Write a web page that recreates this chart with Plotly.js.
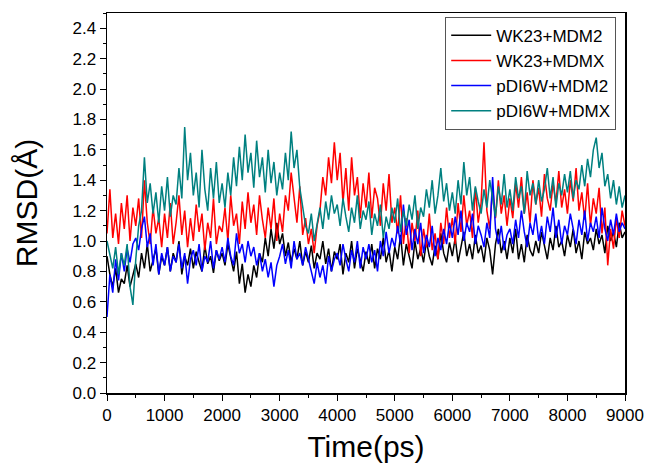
<!DOCTYPE html>
<html>
<head>
<meta charset="utf-8">
<script src="https://cdn.plot.ly/plotly-3.0.1.min.js"></script>
<style>html,body{margin:0;padding:0;background:#fff;}#chart{width:645px;height:464px;}</style>
</head>
<body>
<div id="chart"></div>
<script>
const timePs = [
0,50,100,150,200,250,300,350,400,450,
500,550,600,650,700,750,800,850,900,950,
1000,1050,1100,1150,1200,1250,1300,1350,1400,1450,
1500,1550,1600,1650,1700,1750,1800,1850,1900,1950,
2000,2050,2100,2150,2200,2250,2300,2350,2400,2450,
2500,2550,2600,2650,2700,2750,2800,2850,2900,2950,
3000,3050,3100,3150,3200,3250,3300,3350,3400,3450,
3500,3550,3600,3650,3700,3750,3800,3850,3900,3950,
4000,4050,4100,4150,4200,4250,4300,4350,4400,4450,
4500,4550,4600,4650,4700,4750,4800,4850,4900,4950,
5000,5050,5100,5150,5200,5250,5300,5350,5400,5450,
5500,5550,5600,5650,5700,5750,5800,5850,5900,5950,
6000,6050,6100,6150,6200,6250,6300,6350,6400,6450,
6500,6550,6600,6650,6700,6750,6800,6850,6900,6950,
7000,7050,7100,7150,7200,7250,7300,7350,7400,7450,
7500,7550,7600,7650,7700,7750,7800,7850,7900,7950,
8000,8050,8100,8150,8200,8250,8300,8350,8400,8450,
8500,8550,8600,8650,8700,8750,8800,8850,8900,8950,
9000];

const wk23Mdm2 = [
0.90,0.78,0.70,0.82,0.66,0.75,0.72,0.84,0.70,0.78,
0.85,0.76,0.92,0.82,0.98,0.80,0.88,0.95,0.78,0.90,
0.84,0.96,0.80,0.92,0.86,1.00,0.78,0.90,0.84,0.95,
0.82,0.93,0.86,0.80,0.97,0.85,0.90,0.79,0.94,0.87,
0.92,0.84,0.98,0.88,0.80,0.93,0.72,0.85,0.66,0.78,
0.70,0.84,0.76,0.92,0.86,1.02,0.90,1.08,0.95,1.12,
0.98,1.05,0.90,0.99,0.86,0.95,0.88,1.00,0.84,0.93,
0.86,0.97,0.82,0.92,0.88,1.00,0.85,0.95,0.80,0.93,
0.88,0.98,0.78,0.92,0.86,1.00,0.82,0.95,0.88,0.80,
0.93,0.85,0.98,0.82,0.95,0.88,1.02,0.86,0.94,0.80,
0.96,0.88,1.04,0.84,0.98,0.90,0.82,1.00,0.88,0.95,
0.86,1.00,0.90,0.84,0.97,0.88,1.05,0.92,0.86,0.99,
0.90,1.02,0.86,0.96,1.06,0.90,0.98,0.88,1.04,0.92,
0.97,0.86,1.02,0.94,0.78,0.98,1.08,0.92,1.00,0.88,
1.02,0.92,1.08,0.88,0.98,0.86,1.04,0.94,0.90,1.00,
0.92,1.06,0.96,0.88,1.02,0.94,1.10,0.96,1.00,0.90,
1.04,0.96,1.08,0.92,1.00,0.88,1.06,0.98,1.02,0.94,
1.08,0.98,1.04,0.92,1.10,1.00,1.06,0.96,1.12,1.02,
1.06];

const wk23Mdmx = [
1.05,1.34,1.02,1.18,0.98,1.25,1.08,1.30,1.00,1.22,
1.10,1.28,1.02,1.40,1.12,0.98,1.22,1.05,1.15,0.96,
1.18,1.02,1.25,0.98,1.12,1.30,1.04,1.20,0.96,1.15,
1.00,1.24,1.06,1.18,0.94,1.12,1.02,1.28,0.98,1.10,
1.06,1.22,1.00,1.30,1.10,1.18,0.98,1.26,1.08,1.32,
1.12,1.24,1.04,1.30,1.14,1.02,1.22,1.08,1.28,1.00,
1.18,1.06,1.30,1.20,1.45,1.28,1.12,1.36,1.04,1.15,
0.98,1.08,0.92,1.10,1.20,1.42,1.30,1.55,1.38,1.65,
1.40,1.58,1.25,1.48,1.20,1.55,1.30,1.42,1.15,1.38,
1.22,1.45,1.15,1.35,1.28,1.10,1.38,1.20,1.44,1.12,
1.22,1.05,1.30,0.98,1.15,0.92,1.12,1.00,1.20,0.90,
1.08,0.96,1.18,0.94,1.05,0.88,1.12,0.98,1.22,1.02,
1.15,0.98,1.25,1.06,1.30,1.10,1.20,1.02,1.35,1.12,
1.25,1.65,1.20,1.08,1.35,1.15,1.40,1.18,1.30,1.10,
1.28,1.15,1.38,1.22,1.42,1.18,1.32,1.12,1.40,1.24,
1.35,1.16,1.44,1.28,1.20,1.38,1.25,1.46,1.22,1.34,
1.18,1.40,1.26,1.48,1.20,1.32,1.14,1.38,1.10,1.28,
1.18,1.35,1.05,1.22,0.84,1.08,0.95,1.15,1.02,1.20,
1.10];

const pdi6wMdm2 = [
0.50,0.78,0.66,0.88,0.74,0.92,0.80,0.95,0.86,0.98,
1.02,0.94,1.08,1.16,0.96,1.05,0.84,0.98,0.78,0.92,
0.84,0.96,0.80,0.90,0.86,0.98,0.82,0.92,0.72,0.88,
0.94,0.84,0.98,0.80,0.90,0.86,1.00,0.82,0.94,0.88,
0.96,0.86,1.02,0.90,0.84,1.05,0.92,0.98,0.86,1.00,
0.90,0.96,0.84,0.92,0.80,0.88,0.76,0.86,0.70,0.84,
0.90,0.98,0.85,0.94,0.82,1.00,0.88,0.92,0.84,0.96,
0.88,0.80,0.72,0.86,0.76,0.84,0.72,0.90,0.80,0.88,
0.92,0.84,0.98,0.88,0.80,0.94,0.86,1.00,0.82,0.96,
0.88,0.98,0.86,0.94,0.80,1.00,0.90,1.06,0.92,1.02,
0.96,1.10,0.98,1.24,1.04,1.14,0.94,1.08,0.98,1.12,
0.92,1.04,0.96,1.10,0.90,1.02,0.94,1.08,0.98,1.12,
1.02,1.16,1.04,1.20,1.00,1.12,1.06,1.18,0.98,1.10,
1.04,0.96,1.12,1.02,1.42,1.08,0.98,1.10,0.94,1.04,
1.08,0.98,1.14,1.02,1.20,1.06,0.96,1.12,1.04,1.18,
1.00,1.10,0.98,1.16,1.06,1.22,1.02,1.14,0.98,1.10,
1.04,1.18,1.08,0.98,1.14,1.04,1.20,1.00,1.12,1.06,
1.16,1.02,1.22,1.08,1.00,1.14,1.04,1.18,1.06,1.12,
1.08];

const pdi6wMdmx = [
1.00,0.90,0.82,0.96,0.78,0.92,0.84,0.98,0.70,0.58,
0.88,1.10,1.20,1.55,1.25,1.38,1.18,1.32,1.12,1.36,
1.20,1.42,1.16,1.30,1.24,1.48,1.28,1.75,1.40,1.58,
1.30,1.45,1.22,1.60,1.34,1.20,1.48,1.28,1.52,1.25,
1.38,1.22,1.45,1.30,1.55,1.36,1.62,1.40,1.70,1.45,
1.58,1.35,1.66,1.42,1.55,1.32,1.60,1.38,1.52,1.30,
1.45,1.34,1.58,1.40,1.72,1.48,1.60,1.35,1.22,1.10,
1.05,1.18,1.00,1.12,1.22,1.08,1.26,1.14,1.30,1.18,
1.24,1.10,1.28,1.16,1.06,1.22,1.12,1.30,1.08,1.20,
1.14,1.26,1.04,1.18,1.10,1.24,1.02,1.16,1.08,1.22,
1.12,1.28,1.06,1.20,1.10,1.24,1.14,1.30,1.08,1.22,
1.16,1.34,1.22,1.40,1.18,1.30,1.48,1.26,1.38,1.20,
1.32,1.18,1.40,1.24,1.52,1.30,1.42,1.20,1.36,1.26,
1.18,1.34,1.22,1.40,1.28,1.16,1.36,1.24,1.44,1.22,
1.34,1.20,1.42,1.28,1.36,1.18,1.46,1.30,1.38,1.24,
1.40,1.26,1.34,1.48,1.28,1.42,1.22,1.38,1.30,1.44,
1.32,1.46,1.28,1.40,1.34,1.50,1.36,1.54,1.42,1.60,
1.68,1.48,1.58,1.36,1.44,1.28,1.40,1.24,1.36,1.22,
1.30];

const seriesNames = ["WK23+MDM2", "WK23+MDMX", "pDI6W+MDM2", "pDI6W+MDMX"];
const seriesValues = [wk23Mdm2, wk23Mdmx, pdi6wMdm2, pdi6wMdmx];
const seriesColors = ["#000000", "#ff0000", "#0000ff", "#008080"];

const traces = seriesNames.map((name, i) => ({
  x: timePs,
  y: seriesValues[i],
  name: name,
  type: "scatter",
  mode: "lines",
  line: {color: seriesColors[i], width: 1.5}
}));

const font = "Liberation Sans, Arial, sans-serif";
const layout = {
  width: 645, height: 464,
  margin: {l: 107, r: 20, t: 13, b: 71, pad: 0},
  paper_bgcolor: "#ffffff", plot_bgcolor: "#ffffff",
  font: {family: font, color: "#000", size: 17},
  showlegend: true,
  legend: {
    x: 0.983, y: 0.99, xanchor: "right", yanchor: "top",
    bgcolor: "#ffffff", bordercolor: "#555", borderwidth: 1,
    font: {family: font, size: 17, color: "#000"},
    itemwidth: 40, tracegroupgap: 0
  },
  xaxis: {
    range: [0, 9000], tickmode: "array",
    tickvals: [0,1000,2000,3000,4000,5000,6000,7000,8000,9000],
    ticks: "outside", ticklen: 6, tickwidth: 1, tickcolor: "#000",
    minor: {dtick: 500, tick0: 0, ticks: "outside", ticklen: 3, tickcolor: "#000", showgrid: false},
    showline: true, linecolor: "#000", linewidth: 1.5, mirror: true,
    showgrid: false, zeroline: false,
    tickfont: {family: font, size: 17, color: "#000"},
    title: {text: "Time(ps)", font: {family: font, size: 30, color: "#000"}, standoff: 12}
  },
  yaxis: {
    range: [0, 2.5], tickmode: "array",
    tickvals: [0,0.2,0.4,0.6,0.8,1.0,1.2,1.4,1.6,1.8,2.0,2.2,2.4],
    ticktext: ["0.0","0.2","0.4","0.6","0.8","1.0","1.2","1.4","1.6","1.8","2.0","2.2","2.4"],
    ticks: "outside", ticklen: 6, tickwidth: 1, tickcolor: "#000",
    minor: {dtick: 0.1, tick0: 0, ticks: "outside", ticklen: 3, tickcolor: "#000", showgrid: false},
    showline: true, linecolor: "#000", linewidth: 1.5, mirror: true,
    showgrid: false, zeroline: false,
    tickfont: {family: font, size: 17, color: "#000"},
    title: {text: "RMSD(Å)", font: {family: font, size: 30, color: "#000"}, standoff: 26}
  }
};

Plotly.newPlot("chart", traces, layout, {displayModeBar: false, staticPlot: true});
</script>
</body>
</html>
